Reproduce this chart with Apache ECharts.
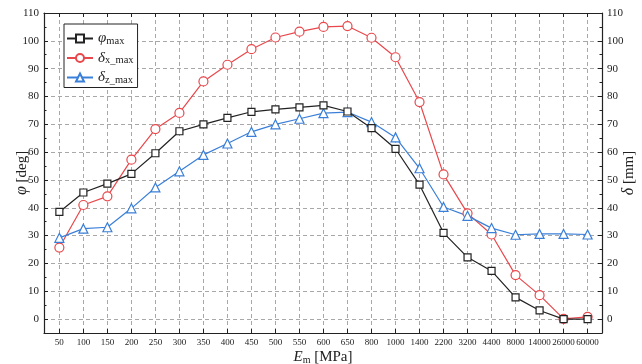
<!DOCTYPE html>
<html>
<head>
<meta charset="utf-8">
<script src="https://cdn.jsdelivr.net/npm/echarts@6/dist/echarts.min.js"></script>
<style>html,body{margin:0;padding:0;background:#fff}#c{width:642px;height:364px}</style>
</head>
<body>
<div id="c"></div>
<script>
var categories = ['50','100','150','200','250','300','350','400','450','500','550','600','650','800','1000','1400','2200','3200','4400','8000','14000','26000','60000'];
var phiMax    = [38.5,45.5,48.7,52.2,59.6,67.5,70.0,72.3,74.5,75.4,76.1,76.8,74.6,68.6,61.2,48.3,31.0,22.2,17.3,7.8,3.1,0.0,0.0];
var deltaXMax = [25.7,41.0,44.1,57.3,68.3,74.1,85.4,91.4,97.0,101.2,103.3,105.0,105.3,101.1,94.1,78.0,52.0,38.0,30.4,15.8,8.6,0.1,0.8];
var deltaZMax = [29.2,32.5,33.0,39.8,47.3,53.1,59.0,63.1,67.3,70.0,72.0,74.0,74.4,70.8,65.3,54.2,40.3,37.1,32.7,30.3,30.6,30.6,30.4];
var yTicks = [0,10,20,30,40,50,60,70,80,90,100,110];
var yMinorTicks = [5,15,25,35,45,55,65,75,85,95,105];

var FONT = '"Liberation Serif","DejaVu Serif",serif';
function pairs(arr){ return arr.map(function(v,i){ return [i,v]; }); }
var xIdx = categories.map(function(c,i){ return i; });

var xMin = -0.64, xMax = 22.6, yMin = -5, yMax = 110;
var axisLineStyle = {color:'#222', width:1.2};
var gridLine = {show:true, lineStyle:{color:'#a8a8a8', type:[4,3], width:1}};

var chart = echarts.init(document.getElementById('c'), null, {renderer:'canvas'});
chart.setOption({
  animation:false,
  backgroundColor:'#fff',
  textStyle:{fontFamily:FONT},
  grid:{left:44, right:40, top:13, bottom:31, containLabel:false, outerBoundsMode:'none'},
  xAxis:[{
    type:'value', position:'bottom', min:xMin, max:xMax,
    axisLine:{show:true, onZero:false, lineStyle:axisLineStyle},
    axisTick:{show:true, inside:true, length:4, customValues:xIdx, lineStyle:{color:'#222'}},
    axisLabel:{customValues:xIdx, fontFamily:FONT, fontSize:9, color:'#222', margin:5, hideOverlap:false,
      showMinLabel:true, showMaxLabel:true,
      formatter:function(v){ return categories[Math.round(v)]; }},
    splitLine:gridLine,
    name:'{i|E}{s|m} [MPa]', nameLocation:'middle', nameGap:16, nameMoveOverlap:false,
    nameTextStyle:{fontFamily:FONT, fontSize:15, color:'#222',
      rich:{i:{fontFamily:FONT, fontSize:15, fontStyle:'italic', color:'#222'},
            s:{fontFamily:FONT, fontSize:10, color:'#222', padding:[6,0,0,0]}}}
  },{
    type:'value', position:'top', min:xMin, max:xMax,
    axisLine:{show:true, onZero:false, lineStyle:axisLineStyle},
    axisTick:{show:true, inside:true, length:4, customValues:xIdx, lineStyle:{color:'#222'}},
    axisLabel:{show:false}, splitLine:{show:false}
  }],
  yAxis:[{
    type:'value', position:'left', min:yMin, max:yMax,
    axisLine:{show:true, onZero:false, lineStyle:axisLineStyle},
    axisTick:{show:true, inside:true, length:4, customValues:yTicks, lineStyle:{color:'#222'}},
    axisLabel:{customValues:yTicks, fontFamily:FONT, fontSize:11, color:'#222', margin:5},
    splitLine:gridLine,
    name:'{g|φ} [deg]', nameLocation:'middle', nameRotate:90, nameGap:14, nameMoveOverlap:false,
    nameTextStyle:{fontFamily:FONT, fontSize:15, color:'#222',
      rich:{g:{fontFamily:FONT, fontSize:16, fontStyle:'italic', color:'#222'}}}
  },{
    type:'value', position:'right', min:yMin, max:yMax,
    axisLine:{show:true, onZero:false, lineStyle:axisLineStyle},
    axisTick:{show:true, inside:true, length:4, customValues:yTicks, lineStyle:{color:'#222'}},
    axisLabel:{customValues:yTicks, fontFamily:FONT, fontSize:11, color:'#222', margin:5},
    splitLine:{show:false},
    name:'{g|δ} [mm]', nameLocation:'middle', nameRotate:90, nameGap:19, nameMoveOverlap:false,
    nameTextStyle:{fontFamily:FONT, fontSize:15, color:'#222',
      rich:{g:{fontFamily:FONT, fontSize:16, fontStyle:'italic', color:'#222'}}}
  },{
    type:'value', position:'left', min:yMin, max:yMax,
    axisLine:{show:false, onZero:false},
    axisTick:{show:true, inside:true, length:2.5, customValues:yMinorTicks, lineStyle:{color:'#222'}},
    axisLabel:{show:false}, splitLine:{show:false}
  },{
    type:'value', position:'right', min:yMin, max:yMax,
    axisLine:{show:false, onZero:false},
    axisTick:{show:true, inside:true, length:2.5, customValues:yMinorTicks, lineStyle:{color:'#222'}},
    axisLabel:{show:false}, splitLine:{show:false}
  }],
  legend:{
    orient:'vertical', left:64, top:24,
    backgroundColor:'#fff', borderColor:'#222', borderWidth:1,
    padding:[7,4,2,2], itemGap:4, itemWidth:26, itemHeight:10,
    textStyle:{fontFamily:FONT, fontSize:14, color:'#222',
      rich:{g:{fontFamily:FONT, fontSize:15, fontStyle:'italic', color:'#222'},
            s:{fontFamily:FONT, fontSize:10.5, color:'#222', padding:[5,0,0,0]}}},
    formatter:function(name){
      if(name==='phi') return '{g|φ}{s|max}';
      if(name==='dx') return '{g|δ}{s|x_max}';
      return '{g|δ}{s|z_max}';
    },
    data:['phi','dx','dz']
  },
  series:[{
    name:'phi', type:'line', data:pairs(phiMax), symbol:'rect', symbolSize:7,
    lineStyle:{color:'#222', width:1.2}, itemStyle:{color:'#fff', borderColor:'#222', borderWidth:1.2}, z:3
  },{
    name:'dx', type:'line', data:pairs(deltaXMax), symbol:'circle', symbolSize:9,
    lineStyle:{color:'#e8484c', width:1.2}, itemStyle:{color:'#fff', borderColor:'#e8484c', borderWidth:1.2}, z:2
  },{
    name:'dz', type:'line', data:pairs(deltaZMax), symbol:'triangle', symbolSize:9,
    lineStyle:{color:'#3a7fd8', width:1.2}, itemStyle:{color:'#fff', borderColor:'#3a7fd8', borderWidth:1.2}, z:2
  }]
});
</script>
</body>
</html>
